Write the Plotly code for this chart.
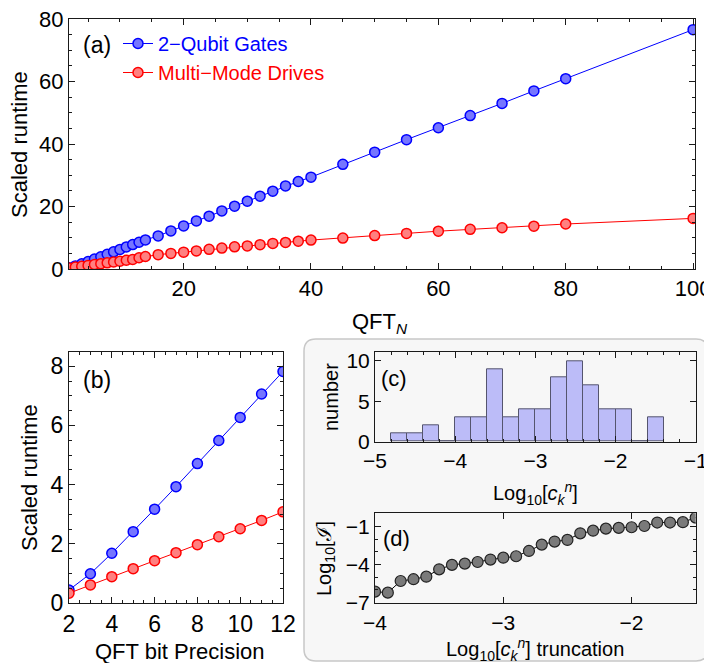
import plotly.graph_objects as go

# ---------------- data ----------------
qft_n = [2, 3, 4, 5, 6, 7, 8, 9, 10, 11, 12, 13, 14, 16, 18, 20, 22, 24, 26, 28, 30,
         32, 34, 36, 38, 40, 45, 50, 55, 60, 65, 70, 75, 80, 100]
gates_a = [0.44, 0.99, 1.68, 2.41, 3.17, 3.93, 4.71, 5.49, 6.27, 7.06, 7.82, 8.55, 9.3,
           10.6, 12.2, 13.8, 15.4, 16.9, 18.6, 20.1, 21.7, 23.3, 24.9, 26.6, 28.0, 29.4,
           33.5, 37.4, 41.4, 45.2, 49.1, 53.0, 57.0, 60.9, 76.6]
drives_a = [0.33, 0.61, 0.89, 1.16, 1.43, 1.70, 1.97, 2.24, 2.51, 2.79, 3.08, 3.6, 4.0,
            4.6, 5.0, 5.4, 5.8, 6.3, 6.7, 7.1, 7.4, 7.8, 8.2, 8.5, 8.9, 9.25,
            9.9, 10.7, 11.4, 12.1, 12.7, 13.2, 13.7, 14.4, 16.2]

precision = [2, 3, 4, 5, 6, 7, 8, 9, 10, 11, 12]
gates_b = [0.44, 0.99, 1.68, 2.41, 3.17, 3.93, 4.71, 5.49, 6.27, 7.06, 7.82]
drives_b = [0.33, 0.61, 0.89, 1.16, 1.43, 1.70, 1.97, 2.24, 2.51, 2.79, 3.08]

bin_left = [-4.8, -4.6, -4.4, -4.2, -4.0, -3.8, -3.6, -3.4, -3.2, -3.0, -2.8, -2.6,
            -2.4, -2.2, -2.0, -1.8, -1.6]
bin_count = [1, 1, 2, 0, 3, 3, 9, 3, 4, 4, 8, 10, 7, 4, 4, 0, 3]
bin_width = 0.2

trunc = [-4.0, -3.9, -3.8, -3.7, -3.6, -3.5, -3.4, -3.3, -3.2, -3.1, -3.0, -2.9, -2.8,
         -2.7, -2.6, -2.5, -2.4, -2.3, -2.2, -2.1, -2.0, -1.9, -1.8, -1.7, -1.6, -1.5]
log_infid = [-6.13, -6.21, -5.29, -5.15, -4.95, -4.37, -4.02, -3.92, -3.79, -3.60, -3.45,
             -3.34, -2.92, -2.42, -2.18, -2.05, -1.53, -1.32, -1.16, -1.10, -1.05, -0.95,
             -0.68, -0.68, -0.65, -0.29]

# ---------------- helpers ----------------
OFF = 8                      # page body margin
W, H = 712 - OFF, 663 - OFF
FONT = "Liberation Sans, Arial, sans-serif"


def px(x):
    return (x - OFF) / W


def py(y):
    return 1 - (y - OFF) / H


BLUE, BLUE_F = "#0000ff", "#7676ff"
RED, RED_F = "#ff0000", "#ff8080"

fig = go.Figure()

# panel (a)
fig.add_trace(go.Scatter(x=qft_n, y=gates_a, mode="lines+markers", xaxis="x", yaxis="y",
                         name='<span style="color:#0000ff">2\u2212Qubit Gates</span>',
                         line=dict(color=BLUE, width=1),
                         marker=dict(size=10, color=BLUE_F, line=dict(color=BLUE, width=1.5))))
fig.add_trace(go.Scatter(x=qft_n, y=drives_a, mode="lines+markers", xaxis="x", yaxis="y",
                         name='<span style="color:#ff0000">Multi\u2212Mode Drives</span>',
                         line=dict(color=RED, width=1),
                         marker=dict(size=10, color=RED_F, line=dict(color=RED, width=1.5))))
# panel (b)
fig.add_trace(go.Scatter(x=precision, y=gates_b, mode="lines+markers", xaxis="x2", yaxis="y2",
                         showlegend=False, line=dict(color=BLUE, width=1),
                         marker=dict(size=10, color=BLUE_F, line=dict(color=BLUE, width=1.5))))
fig.add_trace(go.Scatter(x=precision, y=drives_b, mode="lines+markers", xaxis="x2", yaxis="y2",
                         showlegend=False, line=dict(color=RED, width=1),
                         marker=dict(size=10, color=RED_F, line=dict(color=RED, width=1.5))))
# panel (c)
fig.add_trace(go.Bar(x=[b + bin_width / 2 for b in bin_left], y=bin_count, width=bin_width,
                     xaxis="x3", yaxis="y3", showlegend=False,
                     marker=dict(color="#bcbcf8", line=dict(color="#55556e", width=1))))
# panel (d)
fig.add_trace(go.Scatter(x=trunc, y=log_infid, mode="lines+markers", xaxis="x4", yaxis="y4",
                         showlegend=False, line=dict(color="#000000", width=1),
                         marker=dict(size=11, color="#7a7a7a", line=dict(color="#222222", width=1.2))))


def ax(domain, rng, dtick, minor_dtick, size, anchor, tick0=None, tickvals=None):
    d = dict(domain=domain, range=rng, anchor=anchor, showline=True, mirror="allticks",
             linecolor="#1a1a1a", linewidth=1, ticks="inside", ticklen=6, tickwidth=1,
             tickcolor="#1a1a1a", showgrid=False, zeroline=False, ticklabeloverflow="allow",
             tickfont=dict(size=size, color="#000", family=FONT))
    if tickvals is not None:
        d["tickmode"] = "array"
        d["tickvals"] = tickvals
    else:
        d["dtick"] = dtick
        if tick0 is not None:
            d["tick0"] = tick0
    if minor_dtick:
        d["minor"] = dict(ticks="inside", ticklen=3, dtick=minor_dtick, tickcolor="#1a1a1a",
                          showgrid=False)
    return d


layout = dict(
    width=W, height=H, margin=dict(l=0, r=0, t=0, b=0, autoexpand=False),
    paper_bgcolor="white", plot_bgcolor="rgba(0,0,0,0)",
    font=dict(family=FONT, color="#000"),
    bargap=0,
    xaxis=ax([px(69), px(695)], [2, 100.3], 20, 5, 22, "y",
             tickvals=[20, 40, 60, 80, 100]),
    yaxis=ax([py(269), py(19)], [0, 80], 20, 5, 22, "x", tickvals=[0, 20, 40, 60, 80]),
    xaxis2=ax([px(69), px(283)], [2, 12], 2, 0.5, 23, "y2"),
    yaxis2=ax([py(603), py(352)], [0, 8.48], 2, 0.5, 23, "x2"),
    xaxis3=ax([px(375), px(695.7)], [-5, -1], 1, 0.2, 21, "y3"),
    yaxis3=ax([py(441.7), py(352.3)], [0, 11.05], 5, None, 21, "x3", tickvals=[0, 5, 10]),
    xaxis4=ax([px(375), px(695.7)], [-4, -1.5], 1, None, 21, "y4"),
    yaxis4=ax([py(603.3), py(513.3)], [-7.05, 0.05], 3, 1, 21, "x4", tick0=-7),
    legend=dict(x=px(118), y=py(24), xanchor="left", yanchor="top",
                bgcolor="rgba(0,0,0,0)", font=dict(size=20, family=FONT),
                itemwidth=30, tracegroupgap=0),
)

# rounded box behind panels c and d
x0, x1, y0, y1, r = 304, 708, 339, 661, 12
path = (f"M {px(x0 + r)},{py(y0)} L {px(x1 - r)},{py(y0)} Q {px(x1)},{py(y0)} {px(x1)},{py(y0 + r)} "
        f"L {px(x1)},{py(y1 - r)} Q {px(x1)},{py(y1)} {px(x1 - r)},{py(y1)} "
        f"L {px(x0 + r)},{py(y1)} Q {px(x0)},{py(y1)} {px(x0)},{py(y1 - r)} "
        f"L {px(x0)},{py(y0 + r)} Q {px(x0)},{py(y0)} {px(x0 + r)},{py(y0)} Z")
layout["shapes"] = [dict(type="path", path=path, xref="paper", yref="paper",
                         fillcolor="#f7f7f7", line=dict(color="#c8c8c8", width=1.5),
                         layer="below")]


def ann(text, x, y, size, angle=0):
    return dict(text=text, x=px(x), y=py(y), xref="paper", yref="paper", showarrow=False,
                xanchor="center", yanchor="middle", textangle=angle,
                font=dict(size=size, family=FONT, color="#000"))


layout["annotations"] = [
    ann("(a)", 97, 45, 23),
    ann("(b)", 97, 380, 23),
    ann("(c)", 394, 378, 22),
    ann("(d)", 396, 538, 22),
    ann("Scaled runtime", 19, 145, 22, -90),
    ann("QFT<sub><i>N</i></sub>", 380, 323, 22),
    ann("Scaled runtime", 29, 478, 22, -90),
    ann("QFT bit Precision", 180, 651, 22),
    ann("number", 331, 397, 20, -90),
    ann("Log<sub>10</sub>[<i>c</i><sub><i>k</i></sub><sup><i>n</i></sup>]", 535, 493, 20),
    ann("Log<sub>10</sub>[\u2110]", 325, 559, 20, -90),
    ann("Log<sub>10</sub>[<i>c</i><sub><i>k</i></sub><sup><i>n</i></sup>] truncation", 535, 649, 20),
]

fig.update_layout(**layout)
fig.write_html("out.html")
